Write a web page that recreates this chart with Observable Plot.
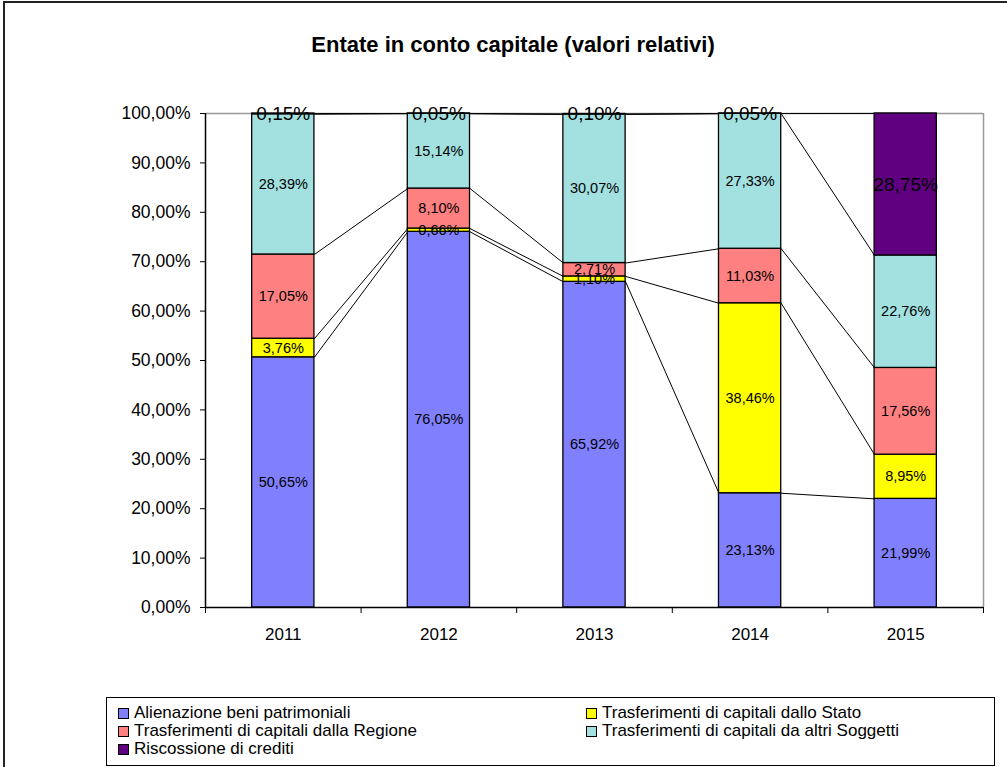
<!DOCTYPE html>
<html>
<head>
<meta charset="utf-8">
<script src="https://cdn.jsdelivr.net/npm/d3@7"></script>
<script src="https://cdn.jsdelivr.net/npm/@observablehq/plot@0.6"></script>
<style>
  html, body { margin: 0; padding: 0; background: #fff; overflow: hidden; }
  body { width: 1007px; height: 767px; position: relative; font-family: "Liberation Sans", Arial, sans-serif; }
  #frame { position: absolute; left: 3px; top: 1px; width: 1100px; height: 900px; border: 2px solid #222; box-sizing: border-box; }
  #title { position: absolute; left: 213px; top: 32px; width: 600px; text-align: center; font-weight: bold; font-size: 22px; color: #000; }
  #chart { position: absolute; left: 0; top: 0; }
  #legend { position: absolute; left: 106px; top: 697px; width: 889px; height: 69px; border: 1px solid #000; box-sizing: border-box; font-size: 17px; }
  .item { position: absolute; display: flex; align-items: center; height: 18px; white-space: nowrap; }
  .sw { width: 9px; height: 9px; border: 1px solid #000; margin-right: 5px; flex: none; }
</style>
</head>
<body>
<div id="frame"></div>
<div id="title">Entate in conto capitale (valori relativi)</div>
<div id="chart"></div>
<div id="legend"></div>
<script>
const years = [2011, 2012, 2013, 2014, 2015];
const seriesNames = [
  "Alienazione beni patrimoniali",
  "Trasferimenti di capitali dallo Stato",
  "Trasferimenti di capitali dalla Regione",
  "Trasferimenti di capitali da altri Soggetti",
  "Riscossione di crediti"
];
const alienazione = [50.65, 76.05, 65.92, 23.13, 21.99];
const stato       = [3.76, 0.66, 1.10, 38.46, 8.95];
const regione     = [17.05, 8.10, 2.71, 11.03, 17.56];
const altri       = [28.39, 15.14, 30.07, 27.33, 22.76];
const riscossione = [0.15, 0.05, 0.10, 0.05, 28.75];
const colors = ["#8080FF", "#FFFF00", "#FF8080", "#A3E0E0", "#600080"];
const yTicks = [0, 10, 20, 30, 40, 50, 60, 70, 80, 90, 100];

const values = [alienazione, stato, regione, altri, riscossione];
const half = 0.2;
const rows = [];
years.forEach((yr, i) => {
  let acc = 0;
  values.forEach((arr, s) => {
    const v = arr[i];
    rows.push({year: yr, i, s, name: seriesNames[s], v, y1: acc, y2: acc + v});
    acc += v;
  });
});
const links = [];
for (let s = 0; s < values.length; s++) {
  for (let i = 0; i < years.length - 1; i++) {
    const a = rows.find(r => r.i === i && r.s === s);
    const b = rows.find(r => r.i === i + 1 && r.s === s);
    links.push({x1: years[i] + half, y1: a.y2, x2: years[i + 1] - half, y2: b.y2});
  }
}
const fmt = v => v.toFixed(2).replace(".", ",") + "%";
const bounds = [2010.5, 2011.5, 2012.5, 2013.5, 2014.5, 2015.5];

const chart = Plot.plot({
  width: 1007,
  height: 690,
  marginTop: 113,
  marginBottom: 83,
  marginLeft: 205,
  marginRight: 24,
  style: {fontFamily: "'Liberation Sans', Arial, sans-serif", background: "transparent", overflow: "visible"},
  x: {domain: [2010.5, 2015.5]},
  y: {domain: [0, 100]},
  color: {domain: seriesNames, range: colors},
  marks: [
    Plot.ruleY([100], {stroke: "#999", strokeWidth: 1.5}),
    Plot.ruleX([2015.5], {stroke: "#999", strokeWidth: 1.5}),
    Plot.link(links, {x1: "x1", y1: "y1", x2: "x2", y2: "y2", stroke: "#000", strokeWidth: 1}),
    Plot.rectY(rows, {x1: d => d.year - half, x2: d => d.year + half, y1: "y1", y2: "y2", fill: "name", stroke: "#000", strokeWidth: 1.3}),
    Plot.text(rows.filter(d => d.s < 4), {x: "year", y: d => (d.y1 + d.y2) / 2, text: d => fmt(d.v), fill: "#000", fontSize: 14.5}),
    Plot.text(rows.filter(d => d.s === 4), {x: "year", y: d => (d.y1 + d.y2) / 2, text: d => fmt(d.v), fill: "#000", fontSize: 19}),
    Plot.axisY({ticks: yTicks, tickFormat: fmt, tickSize: 5, tickPadding: 10, fontSize: 17.5, label: null, stroke: "#000"}),
    Plot.ruleX([2010.5], {stroke: "#000", strokeWidth: 1.5}),
    Plot.ruleY([0], {stroke: "#000", strokeWidth: 1.5}),
    Plot.axisX({ticks: bounds, tickFormat: () => "", tickSize: 6, label: null}),
    Plot.axisX({ticks: years, tickFormat: d => String(d), tickSize: 0, tickPadding: 20, fontSize: 17, label: null})
  ]
});
document.getElementById("chart").appendChild(chart);

const legend = document.getElementById("legend");
const pos = [[11, 6], [479, 6], [11, 24], [479, 24], [11, 42]];
seriesNames.forEach((n, s) => {
  const it = document.createElement("div");
  it.className = "item";
  it.style.left = pos[s][0] + "px";
  it.style.top = pos[s][1] + "px";
  it.innerHTML = `<span class="sw" style="background:${colors[s]}"></span><span>${n}</span>`;
  legend.appendChild(it);
});
</script>
</body>
</html>
